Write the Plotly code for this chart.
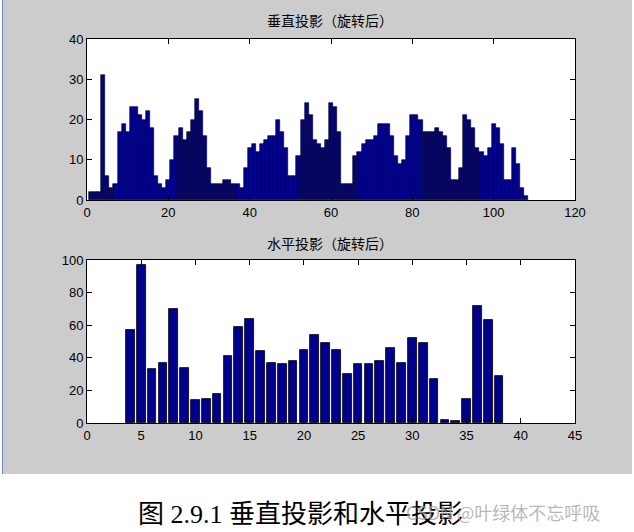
import plotly.graph_objects as go
from plotly.subplots import make_subplots

# vertical projection (after rotation), columns 1..108
vert_x = list(range(1, 109))
vert_y = [2, 2, 2, 31, 6, 3, 4, 17, 19, 17,
          23, 23, 21, 20, 22, 18, 6, 4, 3, 5,
          10, 16, 18, 15, 17, 20, 25, 22, 16, 8,
          4, 4, 4, 5, 5, 4, 4, 3, 8, 13,
          14, 12, 14, 15, 16, 16, 20, 17, 13, 6,
          6, 11, 20, 24, 21, 15, 14, 13, 15, 24,
          23, 17, 4, 4, 4, 11, 12, 14, 15, 15,
          16, 19, 19, 19, 16, 11, 9, 10, 16, 21,
          21, 20, 17, 17, 17, 18, 17, 16, 13, 5,
          5, 8, 21, 20, 18, 13, 12, 11, 13, 19,
          18, 14, 5, 5, 13, 9, 3, 1]

# horizontal projection (after rotation), rows 4..38
horiz_x = list(range(4, 39))
horiz_y = [57, 97, 33, 37, 70, 34, 14, 15, 18, 41,
           59, 64, 44, 37, 36, 38, 45, 54, 49, 45,
           30, 36, 36, 38, 46, 37, 52, 49, 27, 2,
           1, 15, 72, 63, 29]

top_title = "垂直投影（旋转后）"
bottom_title = "水平投影（旋转后）"
caption = "图 2.9.1 垂直投影和水平投影"
watermark = "CSDN @叶绿体不忘呼吸"

W, H = 634, 532
bar_color = "#00008C"
grey = "#CCCCCC"

fig = make_subplots(rows=2, cols=1)
fig.add_trace(go.Bar(x=vert_x, y=vert_y, width=1.0, marker_color=bar_color,
                     marker_line_color="black", marker_line_width=0.6), 1, 1)
fig.add_trace(go.Bar(x=horiz_x, y=horiz_y, width=0.8, marker_color=bar_color,
                     marker_line_color="black", marker_line_width=0.8), 2, 1)

axis_style = dict(showline=True, linecolor="black", linewidth=1, mirror="ticks",
                  ticks="inside", ticklen=5, tickcolor="black", showgrid=False,
                  zeroline=False, automargin=False,
                  tickfont=dict(family="Liberation Sans", size=13, color="black"))

# pixel boxes of the two axes, as in the matlab figure
fig.update_xaxes(domain=[87 / W, 575 / W], **axis_style)
fig.update_yaxes(**axis_style)
fig.update_xaxes(range=[0, 120], tickvals=list(range(0, 121, 20)), row=1, col=1)
fig.update_yaxes(range=[0, 40], tickvals=list(range(0, 41, 10)),
                 domain=[1 - 200 / H, 1 - 39 / H], row=1, col=1)
fig.update_xaxes(range=[0, 45], tickvals=list(range(0, 46, 5)), row=2, col=1)
fig.update_yaxes(range=[0, 100], tickvals=list(range(0, 101, 20)),
                 domain=[1 - 423 / H, 1 - 260 / H], row=2, col=1)

# paper is the grey matlab figure, white strips cover the rest of the page
fig.add_shape(type="rect", xref="paper", yref="paper", x0=0, x1=1,
              y0=0, y1=1 - 474 / H, fillcolor="white", line_width=0, layer="above")
fig.add_shape(type="rect", xref="paper", yref="paper", x0=632 / W, x1=1,
              y0=0, y1=1, fillcolor="white", line_width=0, layer="above")
fig.add_shape(type="rect", xref="paper", yref="paper", x0=0, x1=2 / W,
              y0=0, y1=1, fillcolor="white", line_width=0, layer="above")
fig.add_shape(type="line", xref="paper", yref="paper", x0=2.5 / W, x1=2.5 / W,
              y0=1 - 474 / H, y1=1, line=dict(color="#6A86C8", width=1), layer="above")

cjk = "Noto Sans CJK SC"
fig.add_annotation(text=top_title, x=330 / W, y=1 - 20 / H, xref="paper", yref="paper",
                   yanchor="middle", showarrow=False, font=dict(family=cjk, size=14, color="black"))
fig.add_annotation(text=bottom_title, x=330 / W, y=1 - 243 / H, xref="paper", yref="paper",
                   yanchor="middle", showarrow=False, font=dict(family=cjk, size=14, color="black"))
fig.add_annotation(text=caption, x=136 / W, y=1 - 514 / H, xref="paper", yref="paper",
                   xanchor="left", yanchor="middle", showarrow=False,
                   font=dict(family="Liberation Serif, " + cjk, size=26, color="black"))
fig.add_annotation(text=watermark, x=602 / W, y=1 - 512 / H, xref="paper", yref="paper",
                   xanchor="right", yanchor="middle", showarrow=False,
                   font=dict(family=cjk, size=18, color="rgba(160,160,160,0.75)"))

fig.update_layout(template="none", width=W, height=H,
                  margin=dict(l=0, r=0, t=0, b=0, autoexpand=False),
                  paper_bgcolor=grey, plot_bgcolor="white",
                  showlegend=False, bargap=0)

# page margin off so the figure sits at the window origin
page_css = ("document.body.style.margin='0';"
            "document.body.style.overflow='hidden';"
            "document.documentElement.style.overflow='hidden';")
fig.write_html("out.html", config={"displayModeBar": False}, post_script=page_css)
